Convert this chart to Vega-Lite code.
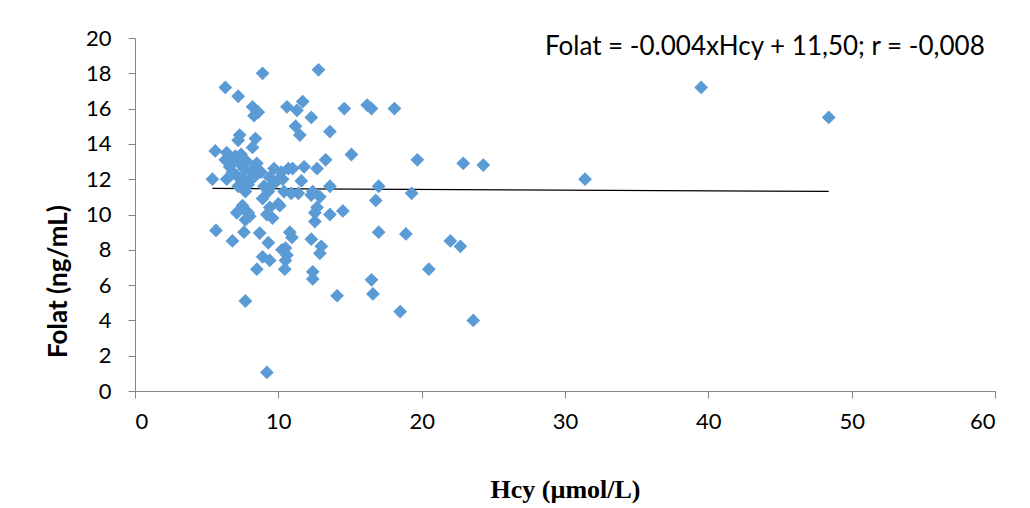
{
  "$schema": "https://vega.github.io/schema/vega-lite/v6.json",
  "width": 860,
  "height": 353,
  "autosize": {"type": "none"},
  "padding": {"left": 135, "top": 38, "right": 35, "bottom": 117},
  "background": "white",
  "config": {
    "view": {"stroke": null},
    "axis": {
      "grid": false,
      "domainColor": "#868686",
      "tickColor": "#868686",
      "tickSize": 7,
      "labelFont": "Lato",
      "labelFontSize": 22,
      "labelColor": "#000000"
    }
  },
  "datasets": {
    "pts": [
      {"hcy": 6.3, "folat": 17.2}, {"hcy": 7.2, "folat": 16.7}, {"hcy": 8.9, "folat": 18.0}, {"hcy": 12.8, "folat": 18.2},
      {"hcy": 8.2, "folat": 16.1}, {"hcy": 8.6, "folat": 15.8}, {"hcy": 8.3, "folat": 15.6}, {"hcy": 10.6, "folat": 16.1},
      {"hcy": 11.3, "folat": 15.9}, {"hcy": 11.7, "folat": 16.4}, {"hcy": 12.3, "folat": 15.5}, {"hcy": 11.2, "folat": 15.0},
      {"hcy": 11.5, "folat": 14.5}, {"hcy": 13.6, "folat": 14.7}, {"hcy": 14.6, "folat": 16.0}, {"hcy": 16.2, "folat": 16.2},
      {"hcy": 16.5, "folat": 16.0}, {"hcy": 18.1, "folat": 16.0}, {"hcy": 39.5, "folat": 17.2}, {"hcy": 48.4, "folat": 15.5},
      {"hcy": 7.3, "folat": 14.5}, {"hcy": 7.2, "folat": 14.2}, {"hcy": 8.4, "folat": 14.3}, {"hcy": 8.2, "folat": 13.8},
      {"hcy": 5.6, "folat": 13.6}, {"hcy": 6.4, "folat": 13.5}, {"hcy": 13.3, "folat": 13.1}, {"hcy": 15.1, "folat": 13.4},
      {"hcy": 19.7, "folat": 13.1}, {"hcy": 22.9, "folat": 12.9}, {"hcy": 24.3, "folat": 12.8}, {"hcy": 6.3, "folat": 13.1},
      {"hcy": 7.0, "folat": 13.3}, {"hcy": 7.4, "folat": 13.4}, {"hcy": 8.5, "folat": 12.9}, {"hcy": 6.6, "folat": 12.7},
      {"hcy": 12.7, "folat": 12.6}, {"hcy": 11.8, "folat": 12.7}, {"hcy": 7.3, "folat": 12.9}, {"hcy": 7.6, "folat": 12.6},
      {"hcy": 8.1, "folat": 12.4}, {"hcy": 8.4, "folat": 12.2}, {"hcy": 6.8, "folat": 12.4}, {"hcy": 7.1, "folat": 12.2},
      {"hcy": 9.7, "folat": 12.6}, {"hcy": 10.2, "folat": 12.4}, {"hcy": 10.7, "folat": 12.6}, {"hcy": 11.0, "folat": 12.6},
      {"hcy": 9.4, "folat": 12.1}, {"hcy": 9.9, "folat": 11.9}, {"hcy": 31.4, "folat": 12.0}, {"hcy": 5.4, "folat": 12.0},
      {"hcy": 6.4, "folat": 12.0}, {"hcy": 7.5, "folat": 12.1}, {"hcy": 8.0, "folat": 11.9}, {"hcy": 11.6, "folat": 11.9},
      {"hcy": 12.4, "folat": 11.3}, {"hcy": 12.3, "folat": 11.1}, {"hcy": 12.9, "folat": 11.0}, {"hcy": 13.6, "folat": 11.6},
      {"hcy": 17.0, "folat": 11.6}, {"hcy": 19.3, "folat": 11.2}, {"hcy": 16.8, "folat": 10.8}, {"hcy": 7.7, "folat": 11.3},
      {"hcy": 7.2, "folat": 11.6}, {"hcy": 9.0, "folat": 11.6}, {"hcy": 9.6, "folat": 11.7}, {"hcy": 10.4, "folat": 11.3},
      {"hcy": 10.9, "folat": 11.2}, {"hcy": 8.9, "folat": 10.9}, {"hcy": 10.0, "folat": 10.6}, {"hcy": 9.4, "folat": 10.4},
      {"hcy": 10.1, "folat": 10.5}, {"hcy": 7.5, "folat": 10.5}, {"hcy": 7.1, "folat": 10.1}, {"hcy": 7.9, "folat": 10.1},
      {"hcy": 9.2, "folat": 10.0}, {"hcy": 9.6, "folat": 9.8}, {"hcy": 7.7, "folat": 9.7}, {"hcy": 12.55, "folat": 10.1},
      {"hcy": 12.7, "folat": 10.4}, {"hcy": 14.5, "folat": 10.2}, {"hcy": 13.6, "folat": 10.0}, {"hcy": 12.55, "folat": 9.6},
      {"hcy": 5.65, "folat": 9.1}, {"hcy": 6.8, "folat": 8.5}, {"hcy": 7.6, "folat": 9.0}, {"hcy": 8.7, "folat": 8.95},
      {"hcy": 9.3, "folat": 8.4}, {"hcy": 10.8, "folat": 9.0}, {"hcy": 10.95, "folat": 8.7}, {"hcy": 10.5, "folat": 8.1},
      {"hcy": 10.25, "folat": 8.0}, {"hcy": 12.3, "folat": 8.6}, {"hcy": 13.0, "folat": 8.2}, {"hcy": 12.9, "folat": 7.8},
      {"hcy": 8.9, "folat": 7.6}, {"hcy": 9.4, "folat": 7.4}, {"hcy": 10.5, "folat": 7.4}, {"hcy": 8.5, "folat": 6.9},
      {"hcy": 10.45, "folat": 6.9}, {"hcy": 12.4, "folat": 6.75}, {"hcy": 12.4, "folat": 6.35}, {"hcy": 7.7, "folat": 5.1},
      {"hcy": 14.1, "folat": 5.4}, {"hcy": 9.2, "folat": 1.05}, {"hcy": 17.0, "folat": 9.0}, {"hcy": 18.9, "folat": 8.9},
      {"hcy": 22.0, "folat": 8.5}, {"hcy": 22.7, "folat": 8.2}, {"hcy": 20.5, "folat": 6.9}, {"hcy": 16.5, "folat": 6.3},
      {"hcy": 16.6, "folat": 5.5}, {"hcy": 18.5, "folat": 4.5}, {"hcy": 23.6, "folat": 4.0}, {"hcy": 10.6, "folat": 7.7},
      {"hcy": 7.8, "folat": 13.0}, {"hcy": 8.3, "folat": 12.6}, {"hcy": 6.9, "folat": 13.0}, {"hcy": 7.9, "folat": 11.7},
      {"hcy": 8.8, "folat": 12.4}, {"hcy": 10.3, "folat": 12.0}, {"hcy": 9.3, "folat": 11.3}, {"hcy": 11.4, "folat": 11.2},
      {"hcy": 7.6, "folat": 10.3}, {"hcy": 8.0, "folat": 9.9}
    ],
    "trend": [
      {"hcy": 5.4, "folat": 11.48},
      {"hcy": 48.4, "folat": 11.31}
    ],
    "note": [
      {"hcy": 28.6, "folat": 19.48, "label": "Folat = -0.004xHcy + 11,50; r = -0,008"}
    ]
  },
  "encoding": {
    "x": {
      "field": "hcy", "type": "quantitative",
      "scale": {"domain": [0, 60], "nice": false, "zero": false},
      "axis": {
        "values": [0, 10, 20, 30, 40, 50, 60],
        "title": "Hcy (µmol/L)",
        "titleFont": "Liberation Serif",
        "titleFontSize": 26,
        "titleFontWeight": "bold",
        "titleColor": "#000000",
        "titleY": 98,
        "titleBaseline": "middle",
        "labelPadding": 13
      }
    },
    "y": {
      "field": "folat", "type": "quantitative",
      "scale": {"domain": [0, 20], "nice": false, "zero": false},
      "axis": {
        "values": [0, 2, 4, 6, 8, 10, 12, 14, 16, 18, 20],
        "title": "Folat (ng/mL)",
        "titleFont": "Lato",
        "titleFontSize": 26,
        "titleFontWeight": "bold",
        "titleColor": "#000000",
        "titleAngle": -90,
        "titleAlign": "center",
        "titleBaseline": "middle",
        "titleX": -77,
        "titleY": 243,
        "labelPadding": 17
      }
    }
  },
  "layer": [
    {
      "data": {"name": "trend"},
      "mark": {"type": "line", "color": "#000000", "strokeWidth": 1.2}
    },
    {
      "data": {"name": "pts"},
      "mark": {"type": "point", "shape": "diamond", "filled": true, "size": 190, "color": "#5B9BD5", "opacity": 1}
    },
    {
      "data": {"name": "note"},
      "mark": {"type": "text", "align": "left", "baseline": "middle", "font": "Lato", "fontSize": 26, "color": "#000000"},
      "encoding": {"text": {"field": "label"}}
    }
  ]
}
